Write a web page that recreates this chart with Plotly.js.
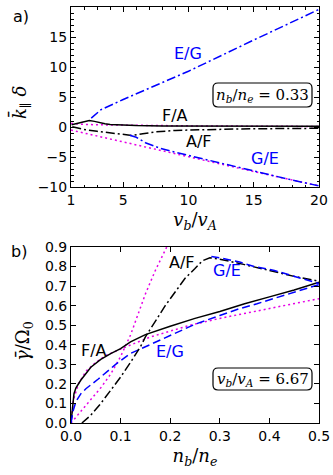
<!DOCTYPE html>
<html>
<head>
<meta charset="utf-8">
<script src="https://cdn.plot.ly/plotly-3.0.1.min.js"></script>
<style>
  html, body { margin: 0; padding: 0; background: white; }
  #plot { width: 333px; height: 475px; }
</style>
</head>
<body>
<div id="plot"></div>
<script>
// ---- panel a) : k_par * delta vs v_b/v_A ----
const aFA_x = [1.05, 1.5, 2, 2.4, 2.8, 3.2, 3.6, 4, 5, 6, 8, 10, 15, 20];
const aFA_y = [0.4, 0.6, 0.85, 1.1, 0.95, 0.7, 0.55, 0.45, 0.33, 0.27, 0.2, 0.17, 0.13, 0.12];

const aAF_x = [1.1, 2, 3, 4, 5, 5.7, 6.5, 7.5, 9, 11, 14, 17, 20];
const aAF_y = [0.05, -0.4, -0.7, -1.0, -1.25, -1.4, -1.1, -0.8, -0.55, -0.4, -0.3, -0.25, -0.2];

const aEG_x = [2.55, 3.3, 5, 10, 15, 20];
const aEG_y = [1.5, 2.9, 4.6, 9.3, 14.5, 19.6];

const aGE_x = [5.5, 6, 6.7, 7.8, 9, 10, 12, 15, 17.5, 20];
const aGE_y = [-1.35, -1.7, -2.6, -3.5, -4.2, -4.7, -5.8, -7.3, -8.6, -9.8];

const aM1_x = [1, 1.5, 2, 3, 5, 10, 15, 20];
const aM1_y = [0.6, 0.5, 0.45, 0.38, 0.3, 0.2, 0.15, 0.1];
const aM2_x = [1, 5, 10, 15, 20];
const aM2_y = [-0.5, -2.5, -4.95, -7.4, -9.8];

// ---- panel b) : gamma / Omega_0 vs n_b/n_e ----
const bFA_x = [0, 0.003, 0.006, 0.01, 0.02, 0.04, 0.06, 0.08, 0.1, 0.12, 0.15, 0.2, 0.25, 0.3, 0.35, 0.4, 0.45, 0.5];
const bFA_y = [0, 0.08, 0.15, 0.18, 0.22, 0.285, 0.325, 0.355, 0.38, 0.415, 0.452, 0.495, 0.535, 0.57, 0.61, 0.645, 0.68, 0.72];

const bEG_x = [0, 0.004, 0.01, 0.02, 0.03, 0.055, 0.09, 0.12, 0.15, 0.19, 0.25, 0.3, 0.34, 0.375, 0.42, 0.46, 0.5];
const bEG_y = [0, 0.06, 0.11, 0.15, 0.175, 0.225, 0.3, 0.356, 0.39, 0.435, 0.505, 0.55, 0.585, 0.61, 0.645, 0.675, 0.708];

const bAF_x = [0.022, 0.04, 0.06, 0.08, 0.1, 0.12, 0.14, 0.15, 0.17, 0.19, 0.21, 0.23, 0.25, 0.265, 0.28, 0.3, 0.35, 0.4, 0.45, 0.5];
const bAF_y = [0, 0.04, 0.1, 0.165, 0.235, 0.31, 0.39, 0.44, 0.52, 0.6, 0.67, 0.74, 0.79, 0.83, 0.845, 0.838, 0.81, 0.78, 0.75, 0.725];

const bGE_x = [0.283, 0.3, 0.34, 0.37, 0.41, 0.45, 0.5];
const bGE_y = [0.852, 0.845, 0.823, 0.8, 0.78, 0.75, 0.713];

const bM1_x = [0, 0.02, 0.04, 0.06, 0.08, 0.1, 0.12, 0.15, 0.17, 0.193];
const bM1_y = [0, 0.06, 0.12, 0.18, 0.25, 0.34, 0.45, 0.66, 0.78, 0.9];
const bM2_x = [0, 0.002, 0.005, 0.015, 0.03, 0.05, 0.07, 0.1, 0.13, 0.16, 0.2, 0.24, 0.3, 0.37, 0.44, 0.5];
const bM2_y = [0, 0.06, 0.12, 0.2, 0.265, 0.31, 0.345, 0.378, 0.41, 0.44, 0.47, 0.5, 0.535, 0.57, 0.605, 0.636];

const BLUE = '#0000ff';
const MAG = '#e600e6';
const DASHDOT = '9px,3px,2px,3px';
const DASHED = '8px,4px';
const DOTTED = '2px,3px';

function line(x, y, color, dash, xa, ya) {
    return {
        x: x, y: y, type: 'scatter', mode: 'lines',
        xaxis: xa, yaxis: ya,
        line: { color: color, width: 1.5, dash: dash },
        hoverinfo: 'skip'
    };
}

const traces = [
    line(aM1_x, aM1_y, MAG, DOTTED, 'x', 'y'),
    line(aM2_x, aM2_y, MAG, DOTTED, 'x', 'y'),
    line(aFA_x, aFA_y, 'black', 'solid', 'x', 'y'),
    line(aAF_x, aAF_y, 'black', DASHDOT, 'x', 'y'),
    line(aEG_x, aEG_y, BLUE, DASHDOT, 'x', 'y'),
    line(aGE_x, aGE_y, BLUE, DASHDOT, 'x', 'y'),

    line(bM1_x, bM1_y, MAG, DOTTED, 'x2', 'y2'),
    line(bM2_x, bM2_y, MAG, DOTTED, 'x2', 'y2'),
    line(bFA_x, bFA_y, 'black', 'solid', 'x2', 'y2'),
    line(bEG_x, bEG_y, BLUE, DASHED, 'x2', 'y2'),
    line(bAF_x, bAF_y, 'black', DASHDOT, 'x2', 'y2'),
    line(bGE_x, bGE_y, BLUE, DASHED, 'x2', 'y2')
];

const tickFont = { family: 'DejaVu Sans', size: 14, color: 'black' };
const mathFont = { family: 'DejaVu Serif', size: 18, color: 'black' };

const axisBase = {
    showgrid: false, zeroline: false,
    showline: true, linecolor: 'black', linewidth: 1,
    mirror: 'ticks', ticks: 'inside', ticklen: 5, tickcolor: 'black',
    tickfont: tickFont
};

// plot area is 248 x 416 px starting at (71, 7)
const px = x => (x - 71) / 248;
const py = y => (423 - y) / 416;

// rounded box in paper coords
function roundBox(x0, y0, x1, y1) {
    const rx = 5 / 248, ry = 5 / 416;
    return {
        type: 'path', xref: 'paper', yref: 'paper',
        line: { color: 'black', width: 1.2 }, fillcolor: 'white',
        path: `M ${x0 + rx},${y0} L ${x1 - rx},${y0} Q ${x1},${y0} ${x1},${y0 + ry} ` +
              `L ${x1},${y1 - ry} Q ${x1},${y1} ${x1 - rx},${y1} L ${x0 + rx},${y1} ` +
              `Q ${x0},${y1} ${x0},${y1 - ry} L ${x0},${y0 + ry} Q ${x0},${y0} ${x0 + rx},${y0} Z`
    };
}

function lbl(text, x, y, color, xref, yref) {
    return { text: text, x: x, y: y, xref: xref, yref: yref, showarrow: false,
             xanchor: 'center', yanchor: 'middle',
             font: { family: 'DejaVu Sans', size: 16, color: color } };
}

function paperText(text, x, y, font, angle) {
    return { text: text, x: px(x), y: py(y), xref: 'paper', yref: 'paper',
             xanchor: 'center', yanchor: 'middle', showarrow: false,
             textangle: angle || 0, font: font };
}

const boxFont = { family: 'DejaVu Serif', size: 15, color: 'black' };
const panelFont = { family: 'DejaVu Sans', size: 16, color: 'black' };

const layout = {
    width: 333, height: 475,
    margin: { l: 71, r: 14, t: 7, b: 52 },
    paper_bgcolor: 'white', plot_bgcolor: 'white',
    showlegend: false,
    xaxis: Object.assign({}, axisBase, {
        domain: [0, 1], anchor: 'y', range: [1, 20],
        tickvals: [1, 5, 10, 15, 20],
        minor: { tick0: 0, dtick: 1, ticks: 'inside', ticklen: 2.5, tickcolor: 'black' },
        title: { text: '<i>v</i><sub><i>b</i></sub>/<i>v</i><sub><i>A</i></sub>', font: mathFont, standoff: 6 }
    }),
    yaxis: Object.assign({}, axisBase, {
        domain: [0.567, 1], anchor: 'x', range: [-10, 20],
        tickvals: [-10, -5, 0, 5, 10, 15, 20],
        ticktext: ['\u221210', '\u22125', '0', '5', '10', '15', '20'],
        minor: { tick0: 0, dtick: 1, ticks: 'inside', ticklen: 2.5, tickcolor: 'black' }
    }),
    xaxis2: Object.assign({}, axisBase, {
        domain: [0, 1], anchor: 'y2', range: [0, 0.5],
        tickvals: [0, 0.1, 0.2, 0.3, 0.4, 0.5],
        ticktext: ['0.0', '0.1', '0.2', '0.3', '0.4', '0.5'],
        title: { text: '<i>n</i><sub><i>b</i></sub>/<i>n</i><sub><i>e</i></sub>', font: mathFont, standoff: 6 }
    }),
    yaxis2: Object.assign({}, axisBase, {
        domain: [0, 0.423], anchor: 'x2', range: [0, 0.9],
        tickvals: [0, 0.1, 0.2, 0.3, 0.4, 0.5, 0.6, 0.7, 0.8, 0.9],
        ticktext: ['0.0', '0.1', '0.2', '0.3', '0.4', '0.5', '0.6', '0.7', '0.8', '0.9']
    }),
    shapes: [
        roundBox(px(213), py(107), px(312), py(83)),
        roundBox(px(213), py(390), px(312), py(368))
    ],
    annotations: [
        lbl('E/G', 9.97, 12.2, BLUE, 'x', 'y'),
        lbl('F/A', 8.97, 1.9, 'black', 'x', 'y'),
        lbl('A/F', 10.8, -2.45, 'black', 'x', 'y'),
        lbl('G/E', 15.9, -5.3, BLUE, 'x', 'y'),
        lbl('A/F', 0.2235, 0.823, 'black', 'x2', 'y2'),
        lbl('G/E', 0.314, 0.781, BLUE, 'x2', 'y2'),
        lbl('F/A', 0.0455, 0.373, 'black', 'x2', 'y2'),
        lbl('E/G', 0.1986, 0.364, BLUE, 'x2', 'y2'),
        paperText('<i>n</i><sub><i>b</i></sub>/<i>n</i><sub><i>e</i></sub> = 0.33', 262.5, 95, boxFont),
        paperText('<i>v</i><sub><i>b</i></sub>/<i>v</i><sub><i>A</i></sub> = 6.67', 262.5, 379, boxFont),
        paperText('a)', 20.5, 16.5, panelFont),
        paperText('b)', 18.5, 251.5, panelFont),
        // y-axis titles, placed by hand to sit where the reference has them
        paperText('<i>k\u0304</i><sub>\u2225</sub> <i>\u03b4</i>', 20, 103, mathFont, -90),
        paperText('<i>\u03b3\u0304</i>/\u03a9<sub>0</sub>', 24, 341, mathFont, -90)
    ]
};

Plotly.newPlot('plot', traces, layout, { displayModeBar: false, staticPlot: true });
</script>
</body>
</html>
